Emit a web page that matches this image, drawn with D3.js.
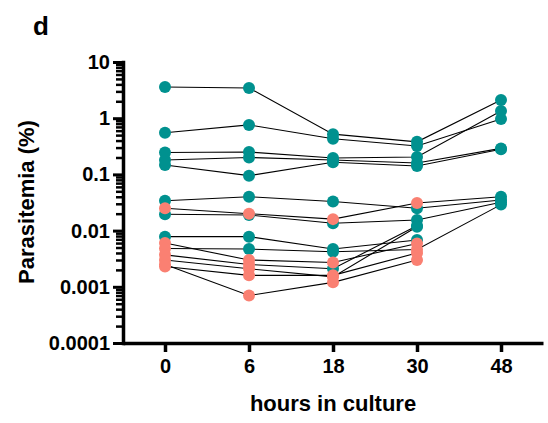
<!DOCTYPE html>
<html lang="en">
<head>
<meta charset="utf-8">
<title>Parasitemia over time in culture</title>
<script src="https://d3js.org/d3.v7.min.js"></script>
<style>
  body { margin: 0; background: #fff; }
  svg text { font-family: "Liberation Sans", Arial, sans-serif; font-weight: bold; fill: #000; }
</style>
</head>
<body>
<div id="main"></div>
<script>

// time points (hours in culture)
var hours = ["0", "6", "18", "30", "48"];

// y axis labels
var yTicks = [10, 1, 0.1, 0.01, 0.001, 0.0001];
var yTickLabels = ["10", "1", "0.1", "0.01", "0.001", "0.0001"];

// parasitemia (%) per sample at each time point, null = not measured
var parasitemia = [
  [3.6, 3.45, 0.52, 0.38, 2.1],
  [0.55, 0.76, 0.43, 0.32, 0.97],
  [0.245, 0.25, 0.196, 0.204, 1.34],
  [0.18, 0.2, 0.18, 0.16, 0.29],
  [0.147, 0.095, 0.165, 0.141, 0.28],
  [0.034, 0.040, 0.033, 0.025, 0.035],
  [0.025, 0.020, 0.016, 0.031, 0.040],
  [0.0195, 0.019, 0.0135, 0.0154, 0.032],
  [0.0078, 0.0078, 0.0047, 0.0068, null],
  [0.0060, 0.0030, 0.0027, 0.0059, null],
  [0.0048, 0.0047, 0.0042, 0.0046, 0.029],
  [0.0037, 0.0025, 0.0021, 0.0122, null],
  [0.0030, 0.0021, 0.0015, 0.0117, null],
  [0.0025, 0.0007, 0.0012, 0.0030, null],
  [0.0023, 0.0016, 0.0016, 0.0040, null]
];

// point group: 0 = teal, 1 = salmon
var group = [
  [0, 0, 0, 0, 0],
  [0, 0, 0, 0, 0],
  [0, 0, 0, 0, 0],
  [0, 0, 0, 0, 0],
  [0, 0, 0, 0, 0],
  [0, 0, 0, 0, 0],
  [1, 1, 1, 1, 0],
  [0, 0, 0, 0, 0],
  [0, 0, 0, 0, 0],
  [1, 1, 1, 1, 0],
  [1, 0, 0, 1, 0],
  [1, 1, 0, 0, 0],
  [1, 1, 1, 0, 0],
  [1, 1, 1, 1, 0],
  [1, 1, 1, 1, 0]
];

var colors = ["#00918f", "#fa8072"];

var w = 548, h = 423;

var svg = d3.select("#main")
  .append("svg")
  .attr("width", w)
  .attr("height", h);

var x = d3.scalePoint().domain(hours).range([123, 543]).padding(0.5);
var y = d3.scaleLog().domain([0.0001, 10]).range([343, 62]);

// minor ticks 2..9 in every decade
var minorTicks = y.ticks().filter(function(d) {
  return yTicks.indexOf(d) < 0;
});

var yMinor = svg.append("g")
  .attr("transform", "translate(123,0)")
  .call(d3.axisLeft(y).tickValues(minorTicks).tickSize(7).tickFormat(""));
yMinor.select(".domain").remove();
yMinor.selectAll(".tick line").attr("stroke-width", 2.5);

var yAxis = svg.append("g")
  .attr("transform", "translate(123,0)")
  .call(d3.axisLeft(y)
    .tickValues(yTicks)
    .tickSize(10)
    .tickSizeOuter(0)
    .tickPadding(3)
    .tickFormat(function(d, i) { return yTickLabels[i]; }));
yAxis.select(".domain").attr("stroke-width", 3.5).attr("stroke-linecap", "square");
yAxis.selectAll(".tick line").attr("stroke-width", 3);
yAxis.selectAll(".tick text").attr("font-size", 20);

var xAxis = svg.append("g")
  .attr("transform", "translate(0,343)")
  .call(d3.axisBottom(x).tickSize(9).tickSizeOuter(0).tickPadding(7));
xAxis.select(".domain").attr("stroke-width", 3.5);
xAxis.selectAll(".tick line").attr("stroke-width", 3.5);
xAxis.selectAll(".tick text").attr("font-size", 20);

// connecting lines
var line = d3.line()
  .defined(function(d) { return d !== null; })
  .x(function(d, i) { return x(hours[i]); })
  .y(function(d) { return y(d); });

svg.append("g")
  .selectAll("path")
  .data(parasitemia)
  .enter()
  .append("path")
  .attr("d", line)
  .attr("fill", "none")
  .attr("stroke", "#000")
  .attr("stroke-width", 1.1);

// points, teal first, salmon on top
var points = [];
parasitemia.forEach(function(row, s) {
  row.forEach(function(v, i) {
    if (v !== null) points.push({ hour: hours[i], value: v, g: group[s][i] });
  });
});
points.sort(function(a, b) { return a.g - b.g; });

svg.append("g")
  .selectAll("circle")
  .data(points)
  .enter()
  .append("circle")
  .attr("cx", function(d) { return x(d.hour); })
  .attr("cy", function(d) { return y(d.value); })
  .attr("r", 6)
  .attr("fill", function(d) { return colors[d.g]; });

// axis titles
svg.append("text")
  .attr("x", 333)
  .attr("y", 411)
  .attr("text-anchor", "middle")
  .attr("font-size", 22)
  .text("hours in culture");

svg.append("text")
  .attr("transform", "translate(34,202) rotate(-90)")
  .attr("text-anchor", "middle")
  .attr("font-size", 22)
  .text("Parasitemia (%)");

// panel letter
svg.append("text")
  .attr("x", 33)
  .attr("y", 35)
  .attr("font-size", 26)
  .text("d");

</script>
</body>
</html>
